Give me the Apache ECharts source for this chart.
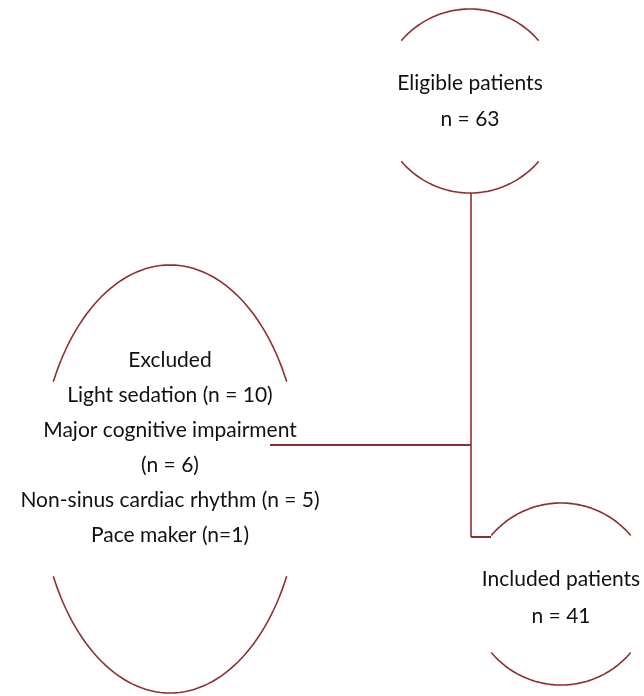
<!DOCTYPE html>
<html>
<head>
<meta charset="utf-8">
<script src="https://cdn.jsdelivr.net/npm/echarts@6/dist/echarts.min.js"></script>
<style>
  html, body { margin: 0; padding: 0; background: #fff; }
  #chart { width: 644px; height: 696px; }
</style>
</head>
<body>
<div id="chart"></div>
<script>
// node texts
const nodeLabels = [
  ['Eligible patients', 'n = 63'],
  ['Excluded', 'Light sedation (n = 10)', 'Major cognitive impairment', '(n = 6)', 'Non-sinus cardiac rhythm (n = 5)', 'Pace maker (n=1)'],
  ['Included patients', 'n = 41']
]
// node layout (chart units = pixels)
const nodeX = [470, 170, 561]
const nodeY = [101, 479, 594]
const nodeRx = [91, 131, 91]
const nodeRy = [92, 214, 91]
const arcCut = [41, 27, 40] // degrees, where each arc stops
const labelY = [101, 448, 598]
const lineGap = [36, 35, 37]

// connectors
const spine = [[471, 193], [471, 537]]
const branch = [[270, 445], [471, 445]]
const foot = [[471, 537], [491, 537]]

const lineColor = '#8e2f2f'

const chart = echarts.init(document.getElementById('chart'))

function connector (points, width) {
  return {
    type: 'line',
    data: points,
    symbol: 'none',
    silent: true,
    lineStyle: { color: lineColor, width: width }
  }
}

chart.setOption({
  animation: false,
  grid: { left: 0, right: 0, top: 0, bottom: 0 },
  xAxis: { type: 'value', min: 0, max: 644, show: false },
  yAxis: { type: 'value', min: 0, max: 696, inverse: true, show: false },
  series: [
    connector(spine, 1.6),
    connector(branch, 2),
    connector(foot, 2),
    {
      type: 'custom',
      silent: true,
      data: nodeX.map((x, i) => [x, nodeY[i]]),
      renderItem (params, api) {
        const i = params.dataIndex
        const children = []
        const a0 = arcCut[i] * Math.PI / 180
        const a1 = Math.PI - a0
        // top and bottom arcs of the ellipse
        ;[-1, 1].forEach(side => {
          const pts = []
          for (let k = 0; k <= 60; k++) {
            const t = a0 + (a1 - a0) * k / 60
            pts.push(api.coord([nodeX[i] + nodeRx[i] * Math.cos(t), nodeY[i] + side * nodeRy[i] * Math.sin(t)]))
          }
          children.push({
            type: 'polyline',
            shape: { points: pts },
            style: { stroke: lineColor, lineWidth: 1.6, fill: 'none' }
          })
        })
        const c = api.coord([nodeX[i], labelY[i]])
        children.push({
          type: 'text',
          x: c[0],
          y: c[1],
          style: {
            text: nodeLabels[i].join('\n'),
            lineHeight: lineGap[i],
            font: '21px Lato',
            align: 'center',
            verticalAlign: 'middle',
            fill: '#111'
          }
        })
        return { type: 'group', children: children }
      }
    }
  ]
})
</script>
</body>
</html>
